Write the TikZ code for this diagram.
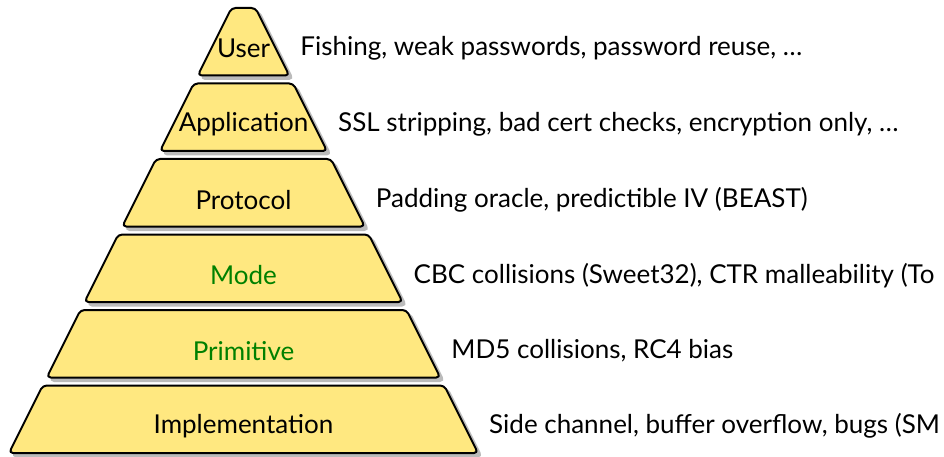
\documentclass[tikz,border=0pt]{standalone}
\usepackage{fontspec}
\setmainfont{Lato}
\definecolor{bandfill}{HTML}{FFE880}
\definecolor{shadowgray}{HTML}{BBBBBB}
\definecolor{labgreen}{HTML}{008000}
\tikzset{
  band/.style={draw=black, line width=2pt, fill=bandfill, rounded corners=4pt, line join=round},
  bandshadow/.style={fill=shadowgray, draw=shadowgray, line width=2pt, rounded corners=4pt},
  bandlabel/.style={font=\fontsize{26}{30}\selectfont, anchor=center, inner sep=0pt},
  sidelabel/.style={font=\fontsize{26}{30}\selectfont, anchor=west, inner sep=0pt},
}
\begin{document}
\begin{tikzpicture}[x=1pt,y=-1pt]
\useasboundingbox (0,0) rectangle (944,457);
\clip (0,0) rectangle (944,457);
\def\pcx{243.5}
\foreach \i/\nm/\lab/\side/\col in {
  1/user/User/{Fishing, weak passwords, password reuse, \ldots}/black,
  2/app/Application/{SSL stripping, bad cert checks, encryption only, \ldots}/black,
  3/proto/Protocol/{Padding oracle, predictible IV (BEAST)}/black,
  4/mode/Mode/{CBC collisions (Sweet32), CTR malleability (To}/labgreen,
  5/prim/Primitive/{MD5 collisions, RC4 bias}/labgreen,
  6/impl/Implementation/{Side channel, buffer overflow, bugs (SM}/black}
{
  \pgfmathsetmacro{\ytop}{8+75.5*(\i-1)}
  \pgfmathsetmacro{\ybot}{\ytop+67.5}
  \pgfmathsetmacro{\hwtop}{12+0.5*(\ytop-8)}
  \pgfmathsetmacro{\hwbot}{12+0.5*(\ybot-8)}
  \pgfmathsetmacro{\ymid}{(\ytop+\ybot)/2+7}
  \pgfmathsetmacro{\xside}{\pcx+\hwbot+11}
  \begin{scope}[shift={(3.5,3.5)}]
    \path[bandshadow] (\pcx-\hwbot,\ybot) -- (\pcx-\hwtop,\ytop) -- (\pcx+\hwtop,\ytop) -- (\pcx+\hwbot,\ybot) -- cycle;
  \end{scope}
  \path[band] (\pcx-\hwbot,\ybot) -- (\pcx-\hwtop,\ytop) -- (\pcx+\hwtop,\ytop) -- (\pcx+\hwbot,\ybot) -- cycle;
  \node[bandlabel, text=\col] (\nm) at (\pcx,\ymid) {\lab};
  \node[sidelabel] (\nm-side) at (\xside,\ymid) {\side};
}
\end{tikzpicture}
\end{document}
